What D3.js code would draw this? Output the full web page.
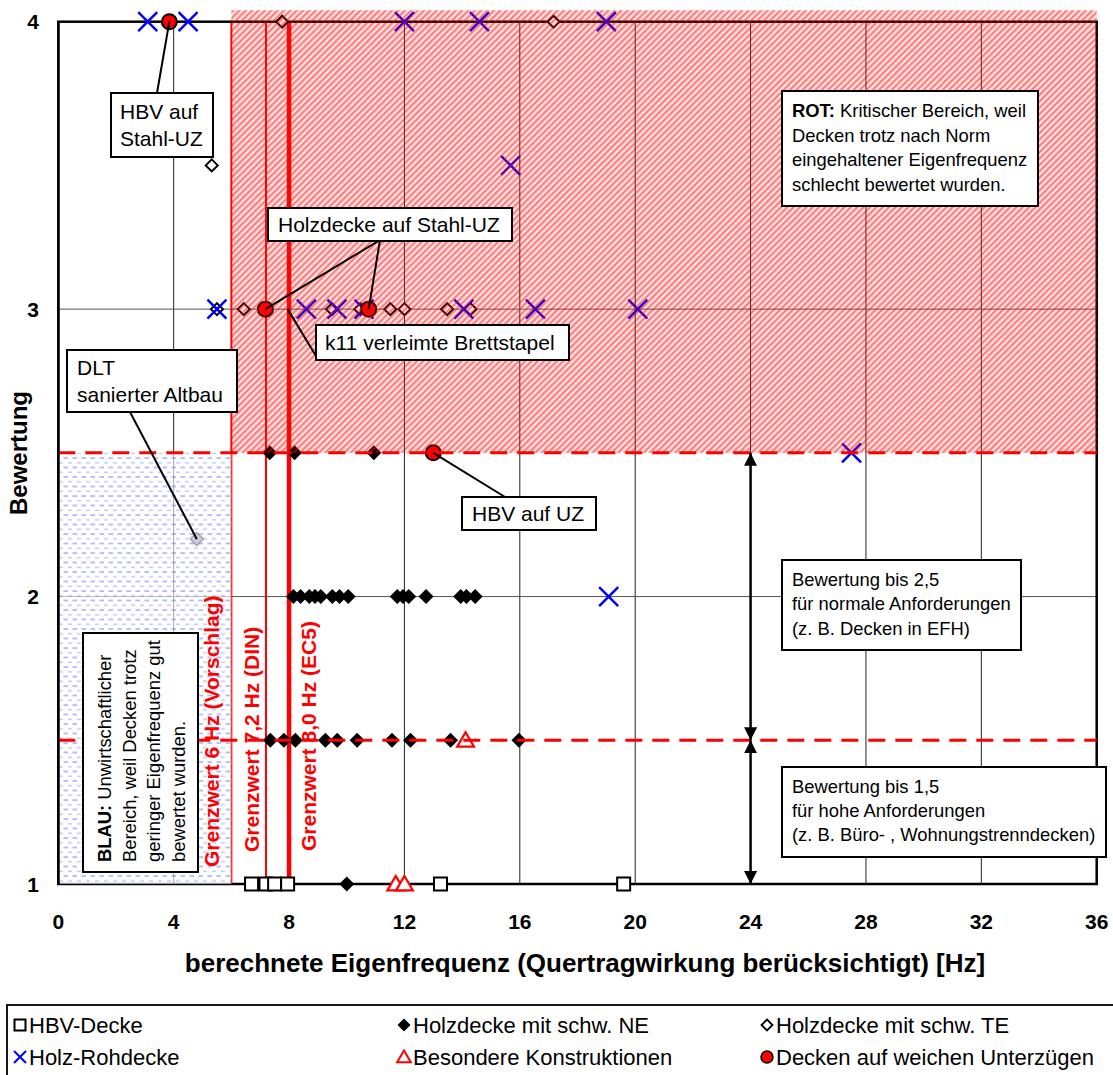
<!DOCTYPE html>
<html>
<head>
<meta charset="utf-8">
<script src="https://cdn.jsdelivr.net/npm/d3@7"></script>
<style>
body { margin: 0; background: #fff; }
text { font-family: "Liberation Sans", Arial, sans-serif; }
</style>
</head>
<body>
<div id="chart"></div>
<script>
// Variables
var width = 1113,
	height = 1075;

// data
var xTicks = [0, 4, 8, 12, 16, 20, 24, 28, 32, 36];
var yTicks = [1, 2, 3, 4];

var hbvDecke = [[6.7, 1], [7.2, 1], [7.5, 1], [7.95, 1], [13.25, 1], [19.6, 1]];
var holzNE = [
	[10.0, 1],
	[7.35, 1.5], [7.82, 1.5], [8.22, 1.5], [9.26, 1.5], [9.67, 1.5], [10.36, 1.5], [11.57, 1.5], [12.21, 1.5], [13.6, 1.5], [15.97, 1.5],
	[8.15, 2], [8.4, 2], [8.7, 2], [8.9, 2], [9.1, 2], [9.5, 2], [9.75, 2], [10.05, 2], [11.75, 2], [11.95, 2], [12.15, 2], [12.75, 2], [13.95, 2], [14.15, 2], [14.45, 2],
	[7.33, 2.5], [8.19, 2.5], [10.94, 2.5]
];
var holzTE = [
	[7.76, 4], [17.17, 4], [5.32, 3.5],
	[5.5, 3], [6.43, 3], [9.49, 3], [10.47, 3], [11.51, 3], [12.0, 3], [13.48, 3], [14.29, 3]
];
var dltPoint = [[4.8, 2.2]];
var holzRoh = [
	[3.1, 4], [4.5, 4], [12.0, 4], [14.6, 4], [19.0, 4],
	[15.68, 3.5],
	[5.5, 3], [8.6, 3], [9.66, 3], [10.6, 3], [14.06, 3], [16.54, 3], [20.09, 3],
	[27.5, 2.5], [19.08, 2]
];
var besondere = [[14.12, 1.5], [11.7, 1], [12.0, 1]];
var weicheUZ = [[3.85, 4], [7.18, 3], [10.76, 3], [13.0, 2.5]];

var limitFreqs = [6, 7.2, 8];
var limitLabels = ["Grenzwert 6 Hz (Vorschlag)", "Grenzwert 7,2 Hz (DIN)", "Grenzwert 8,0 Hz (EC5)"];
var levelLines = [2.5, 1.5];

var legendLabels = ["HBV-Decke", "Holzdecke mit schw. NE", "Holzdecke mit schw. TE",
	"Holz-Rohdecke", "Besondere Konstruktionen", "Decken auf weichen Unterzügen"];

var x = d3.scaleLinear().domain([0, 36]).range([58.3, 1096.7]);
var y = d3.scaleLinear().domain([1, 4]).range([884, 21.7]);

var svg = d3.select("#chart").append("svg")
	.attr("width", width)
	.attr("height", height);

var defs = svg.append("defs");

// red hatch
var rp = defs.append("pattern")
	.attr("id", "redHatch")
	.attr("patternUnits", "userSpaceOnUse")
	.attr("width", 4.5).attr("height", 4.5)
	.attr("patternTransform", "rotate(45)");
rp.append("rect").attr("width", 4.5).attr("height", 4.5).attr("fill", "#ff2020").attr("fill-opacity", 0.12);
rp.append("line").attr("x1", 1.2).attr("y1", 0).attr("x2", 1.2).attr("y2", 4.5)
	.attr("stroke", "#ff0000").attr("stroke-width", 2).attr("stroke-opacity", 0.5);

// blue dashes
var bp = defs.append("pattern")
	.attr("id", "blueDash")
	.attr("patternUnits", "userSpaceOnUse")
	.attr("width", 9).attr("height", 9.5);
bp.append("rect").attr("width", 9).attr("height", 9.5).attr("fill", "#ffffff").attr("fill-opacity", 0.6);
bp.append("line").attr("x1", 0.5).attr("y1", 2).attr("x2", 5).attr("y2", 2)
	.attr("stroke", "#4a6cff").attr("stroke-width", 1.2).attr("stroke-opacity", 0.7);
bp.append("line").attr("x1", 5).attr("y1", 6.8).attr("x2", 9).attr("y2", 6.8)
	.attr("stroke", "#4a6cff").attr("stroke-width", 1.2).attr("stroke-opacity", 0.45);

defs.append("marker")
	.attr("id", "arrow")
	.attr("viewBox", "0 0 10 10")
	.attr("refX", 10).attr("refY", 5)
	.attr("markerUnits", "userSpaceOnUse")
	.attr("markerWidth", 13).attr("markerHeight", 13)
	.attr("orient", "auto-start-reverse")
  .append("path")
	.attr("d", "M0,0 L10,5 L0,10 Z")
	.attr("fill", "#000");

// grid
svg.append("g").selectAll("line")
	.data(xTicks.slice(1, -1))
  .enter().append("line")
	.attr("x1", function(d) { return x(d); }).attr("x2", function(d) { return x(d); })
	.attr("y1", y(1)).attr("y2", y(4))
	.attr("stroke", "#222").attr("stroke-width", 1);
svg.append("g").selectAll("line")
	.data([2, 3])
  .enter().append("line")
	.attr("x1", x(0)).attr("x2", x(36))
	.attr("y1", function(d) { return y(d); }).attr("y2", function(d) { return y(d); })
	.attr("stroke", "#555").attr("stroke-width", 1);

// limit lines
var limitWidths = [2, 2, 4.5];
svg.append("g").selectAll("line")
	.data(limitFreqs)
  .enter().append("line")
	.attr("x1", function(d) { return x(d); }).attr("x2", function(d) { return x(d); })
	.attr("y1", y(1)).attr("y2", y(4))
	.attr("stroke", "#ff0000")
	.attr("stroke-width", function(d, i) { return limitWidths[i]; });

// frame
svg.append("rect")
	.attr("x", x(0)).attr("y", y(4))
	.attr("width", x(36) - x(0)).attr("height", y(1) - y(4))
	.attr("fill", "none").attr("stroke", "#000").attr("stroke-width", 2.5);

// symbol shapes
function sq(h) { return "M" + (-h) + "," + (-h) + "h" + 2 * h + "v" + 2 * h + "h" + (-2 * h) + "Z"; }
function dia(h) { return "M0," + (-h) + "L" + h + ",0L0," + h + "L" + (-h) + ",0Z"; }
function tri(h) { return "M0," + (-h) + "L" + (h * 1.05) + "," + (h * 0.8) + "L" + (-h * 1.05) + "," + (h * 0.8) + "Z"; }
function cross(h) { return "M" + (-h) + "," + (-h) + "L" + h + "," + h + "M" + (-h) + "," + h + "L" + h + "," + (-h); }

function tr(d) { return "translate(" + x(d[0]) + "," + y(d[1]) + ")"; }

var pts = svg.append("g").attr("class", "points");

pts.selectAll(".ne").data(holzNE).enter().append("path")
	.attr("transform", tr).attr("d", dia(7.5)).attr("fill", "#000");
pts.selectAll(".te").data(holzTE).enter().append("path")
	.attr("transform", tr).attr("d", dia(6)).attr("fill", "#fff")
	.attr("stroke", "#000").attr("stroke-width", 2);
pts.selectAll(".dlt").data(dltPoint).enter().append("path")
	.attr("transform", tr).attr("d", dia(6.5)).attr("fill", "#888")
	.attr("stroke", "#222").attr("stroke-width", 1.5);
pts.selectAll(".hbv").data(hbvDecke).enter().append("path")
	.attr("transform", tr).attr("d", sq(6.5)).attr("fill", "#fff")
	.attr("stroke", "#000").attr("stroke-width", 2);
pts.selectAll(".bes").data(besondere).enter().append("path")
	.attr("transform", tr).attr("d", tri(8)).attr("fill", "#fff")
	.attr("stroke", "#ff0000").attr("stroke-width", 2.2);
pts.selectAll(".roh").data(holzRoh).enter().append("path")
	.attr("transform", tr).attr("d", cross(9.5)).attr("fill", "none")
	.attr("stroke", "#0000ff").attr("stroke-width", 2.5);
pts.selectAll(".uz").data(weicheUZ).enter().append("circle")
	.attr("transform", tr).attr("r", 7.5).attr("fill", "#ff0000")
	.attr("stroke", "#000").attr("stroke-width", 2);

// shaded areas
svg.append("rect")
	.attr("x", x(6)).attr("y", y(4.04))
	.attr("width", x(36) - x(6)).attr("height", y(2.5) - y(4.04))
	.attr("fill", "url(#redHatch)");
svg.append("rect")
	.attr("x", x(0) + 1.5).attr("y", y(2.5))
	.attr("width", x(6) - x(0) - 1.5).attr("height", y(1) - y(2.5))
	.attr("fill", "url(#blueDash)");

// dashed level lines
svg.append("g").selectAll("line")
	.data(levelLines)
  .enter().append("line")
	.attr("x1", x(0)).attr("x2", x(36))
	.attr("y1", function(d) { return y(d); }).attr("y2", function(d) { return y(d); })
	.attr("stroke", "#ff0000").attr("stroke-width", 3)
	.attr("stroke-dasharray", "17,10");

// double arrows at 24 Hz
svg.append("line")
	.attr("x1", x(24)).attr("x2", x(24)).attr("y1", y(2.5)).attr("y2", y(1.5))
	.attr("stroke", "#000").attr("stroke-width", 2.5)
	.attr("marker-start", "url(#arrow)").attr("marker-end", "url(#arrow)");
svg.append("line")
	.attr("x1", x(24)).attr("x2", x(24)).attr("y1", y(1.5)).attr("y2", y(1))
	.attr("stroke", "#000").attr("stroke-width", 2.5)
	.attr("marker-start", "url(#arrow)").attr("marker-end", "url(#arrow)");

// callout leader lines
function leader(p, bx, by) {
	svg.append("line")
		.attr("x1", x(p[0])).attr("y1", y(p[1]))
		.attr("x2", bx).attr("y2", by)
		.attr("stroke", "#000").attr("stroke-width", 2);
}
leader(weicheUZ[0], 157, 93);
leader(weicheUZ[1], 380, 240);
leader(weicheUZ[2], 380, 240);
leader([7.95, 3], 316, 356);
leader(dltPoint[0], 130, 412);
leader(weicheUZ[3], 505, 497);

// text boxes
function box(x0, y0, w, h, lines, size, lh, tx, ty) {
	var g = svg.append("g");
	g.append("rect").attr("x", x0).attr("y", y0).attr("width", w).attr("height", h)
		.attr("fill", "#fff").attr("stroke", "#000").attr("stroke-width", 2);
	var t = g.append("text").attr("font-size", size + "px").attr("fill", "#000");
	lines.forEach(function(l, i) {
		var ln = t.append("tspan").attr("x", tx).attr("y", ty + i * lh);
		if (typeof l === "string") { ln.text(l); }
		else {
			ln.append("tspan").attr("font-weight", "bold").text(l[0]);
			ln.append("tspan").text(l[1]);
		}
	});
	return g;
}

box(111, 93, 102, 64, ["HBV auf", "Stahl-UZ"], 21, 27, 120, 119);
box(268, 208, 244, 33, ["Holzdecke auf Stahl-UZ"], 21, 27, 278, 232);
box(316, 325, 253, 35, ["k11 verleimte Brettstapel"], 21, 27, 325, 350);
box(67, 350, 170, 62, ["DLT", "sanierter Altbau"], 21, 27, 77, 375);
box(462, 497, 134, 33, ["HBV auf UZ"], 21, 27, 472, 521);
box(782, 91, 256, 115, [["ROT:", " Kritischer Bereich, weil"], "Decken trotz nach Norm",
	"eingehaltener Eigenfrequenz", "schlecht bewertet wurden."], 18.4, 24.7, 792, 117);
box(782, 560, 239, 90, ["Bewertung bis 2,5", "für normale Anforderungen", "(z. B. Decken in EFH)"],
	18.4, 24.3, 792, 586);
box(782, 767, 324, 90, ["Bewertung bis 1,5", "für hohe Anforderungen", "(z. B. Büro- , Wohnungstrenndecken)"],
	18.4, 23.8, 792, 793);

// rotated BLAU box
var blau = svg.append("g");
blau.append("rect").attr("x", 83).attr("y", 633).attr("width", 115).attr("height", 239)
	.attr("fill", "#fff").attr("stroke", "#000").attr("stroke-width", 2);
var blauLines = [["BLAU:", " Unwirtschaftlicher"], "Bereich, weil Decken trotz", "geringer Eigenfrequenz gut", "bewertet wurden."];
blauLines.forEach(function(l, i) {
	var t = blau.append("text")
		.attr("transform", "translate(" + (111 + i * 24.5) + ",862) rotate(-90)")
		.attr("font-size", "18.4px");
	if (typeof l === "string") { t.text(l); }
	else {
		t.append("tspan").attr("font-weight", "bold").text(l[0]);
		t.append("tspan").text(l[1]);
	}
});

// vertical limit labels
var limitLabelX = [219, 259, 316], limitLabelY = [867, 852, 851];
svg.append("g").selectAll("text")
	.data(limitLabels)
  .enter().append("text")
	.attr("transform", function(d, i) { return "translate(" + limitLabelX[i] + "," + limitLabelY[i] + ") rotate(-90)"; })
	.attr("font-size", "21px").attr("font-weight", "bold").attr("fill", "#ff0000")
	.text(function(d) { return d; });

// redraw left border over the blue area
svg.append("line").attr("x1", x(0)).attr("x2", x(0)).attr("y1", y(4)).attr("y2", y(1))
	.attr("stroke", "#000").attr("stroke-width", 2.5);

// tick labels
svg.append("g").selectAll("text")
	.data(xTicks)
  .enter().append("text")
	.attr("x", function(d) { return x(d); }).attr("y", 929)
	.attr("text-anchor", "middle").attr("font-size", "21px").attr("font-weight", "bold")
	.text(function(d) { return d; });
svg.append("g").selectAll("text")
	.data(yTicks)
  .enter().append("text")
	.attr("x", 39).attr("y", function(d) { return y(d) + 7.5; })
	.attr("text-anchor", "end").attr("font-size", "21px").attr("font-weight", "bold")
	.text(function(d) { return d; });

// axis titles
svg.append("text")
	.attr("x", 585).attr("y", 972)
	.attr("text-anchor", "middle").attr("font-size", "26px").attr("font-weight", "bold")
	.text("berechnete Eigenfrequenz (Quertragwirkung berücksichtigt) [Hz]");
svg.append("text")
	.attr("transform", "translate(27,453) rotate(-90)")
	.attr("text-anchor", "middle").attr("font-size", "24px").attr("font-weight", "bold")
	.text("Bewertung");

// legend
var lg = svg.append("g");
lg.append("rect").attr("x", 7).attr("y", 1005).attr("width", 1130).attr("height", 90)
	.attr("fill", "#fff").attr("stroke", "#000").attr("stroke-width", 1.8);
var legX = [20, 404, 767], legY = [1025, 1057];
legendLabels.forEach(function(l, i) {
	var cx = legX[i % 3], cy = legY[Math.floor(i / 3)];
	var m = lg.append("g").attr("transform", "translate(" + cx + "," + cy + ")");
	if (i === 0) m.append("path").attr("d", sq(5.5)).attr("fill", "#fff").attr("stroke", "#000").attr("stroke-width", 2);
	if (i === 1) m.append("path").attr("d", dia(6.5)).attr("fill", "#000");
	if (i === 2) m.append("path").attr("d", dia(5.5)).attr("fill", "#fff").attr("stroke", "#000").attr("stroke-width", 1.8);
	if (i === 3) m.append("path").attr("d", cross(6)).attr("stroke", "#0000ff").attr("stroke-width", 2);
	if (i === 4) m.append("path").attr("d", tri(6.5)).attr("fill", "#fff").attr("stroke", "#ff0000").attr("stroke-width", 2);
	if (i === 5) m.append("circle").attr("r", 6).attr("fill", "#ff0000").attr("stroke", "#000").attr("stroke-width", 1.5);
	lg.append("text").attr("x", cx + 9).attr("y", cy + 7.5)
		.attr("font-size", "22px").text(l);
});
</script>
</body>
</html>
